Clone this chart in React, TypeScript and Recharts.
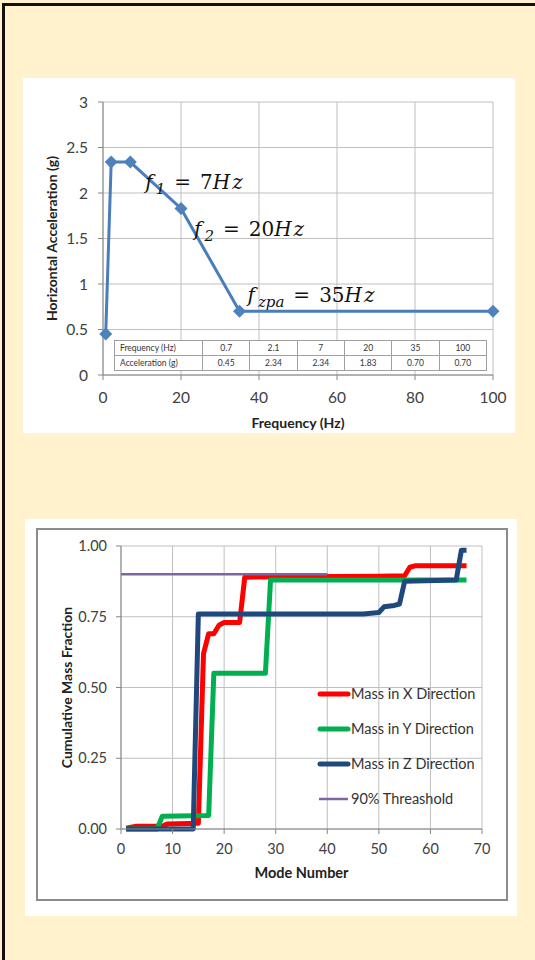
import React from "react";
import { LineChart, Line, XAxis, YAxis, CartesianGrid, ReferenceDot, Legend } from "recharts";

// --- response spectrum (top chart) ---
const FREQ_HZ = [0.7, 2.1, 7, 20, 35, 100];
const ACCEL_G = [0.45, 2.34, 2.34, 1.83, 0.7, 0.7];
const ACCEL_TEXT = ["0.45", "2.34", "2.34", "1.83", "0.70", "0.70"];
const FREQ_TICKS = [0, 20, 40, 60, 80, 100];
const ACCEL_TICKS = [0, 0.5, 1, 1.5, 2, 2.5, 3];

// notes sit next to the spectrum point they name
const NOTE_POINT = [2, 3, 4];
const NOTE_SUB = ["1", "2", "zpa"];
const NOTE_VALUE = ["7", "20", "35"];
const NOTE_OFFSET = [
  [15, 27],
  [13, 27.5],
  [8, -9],
];

// --- cumulative mass (bottom chart) ---
const X_MODES = [1, 3, 8, 9, 15, 16, 17, 18, 19, 20, 23, 24, 50, 55, 56, 57, 67];
const X_MASS = [0.003, 0.01, 0.01, 0.018, 0.02, 0.62, 0.69, 0.69, 0.72, 0.73, 0.73, 0.89, 0.893, 0.895, 0.925, 0.93, 0.93];
const Y_MODES = [1, 7, 8, 17, 18, 28, 29, 67];
const Y_MASS = [0, 0, 0.045, 0.048, 0.55, 0.55, 0.88, 0.88];
const Z_MODES = [1, 14, 15, 47, 50, 51, 53, 54, 55, 59, 65, 66, 67];
const Z_MASS = [0, 0, 0.76, 0.76, 0.765, 0.785, 0.79, 0.795, 0.875, 0.877, 0.88, 0.985, 0.985];
const T_MODES = [0, 40];
const T_MASS = [0.9, 0.9];
const MODE_TICKS = [0, 10, 20, 30, 40, 50, 60, 70];
const MASS_TICKS = [0, 0.25, 0.5, 0.75, 1];

const spectrum = FREQ_HZ.map((f, i) => ({ f, a: ACCEL_G[i] }));
const toRows = (modes: number[], mass: number[]) => modes.map((mode, i) => ({ mode, mass: mass[i] }));

const massSeries = [
  { name: "Mass in X Direction", color: "#ff0000", width: 5, data: toRows(X_MODES, X_MASS) },
  { name: "Mass in Y Direction", color: "#00b050", width: 5, data: toRows(Y_MODES, Y_MASS) },
  { name: "Mass in Z Direction", color: "#1f497d", width: 5, data: toRows(Z_MODES, Z_MASS) },
  { name: "90% Threashold", color: "#8064a2", width: 2.5, data: toRows(T_MODES, T_MASS) },
];

const FONT = "Lato, 'Open Sans', sans-serif";
const tickStyle = { fill: "#404040", fontSize: 15.5, fontFamily: FONT };
const tickStyle2 = { fill: "#404040", fontSize: 14.5, fontFamily: FONT };

const Diamond = (props: any) => {
  const { cx, cy, index } = props;
  if (cx == null || cy == null) return null;
  const s = 6.5;
  return (
    <path
      key={`dm-${index}`}
      d={`M${cx},${cy - s} L${cx + s},${cy} L${cx},${cy + s} L${cx - s},${cy} Z`}
      fill="#4f81bd"
    />
  );
};

const noteShape = (i: number) => (p: any) => {
  const x = p.cx + NOTE_OFFSET[i][0];
  const y = p.cy + NOTE_OFFSET[i][1];
  return (
    <text x={x} y={y} fontFamily="'DejaVu Serif', serif" fontSize={20} fill="#111">
      <tspan fontStyle="italic">f</tspan>
      <tspan fontStyle="italic" fontSize={15} dx={3} dy={5}>
        {NOTE_SUB[i]}
      </tspan>
      <tspan dx={9} dy={-5}>=</tspan>
      <tspan dx={9}>{NOTE_VALUE[i]}</tspan>
      <tspan fontStyle="italic" letterSpacing={2}>Hz</tspan>
    </text>
  );
};

const SpectrumChart = () => (
  <div style={{ position: "absolute", left: 23, top: 78, width: 492, height: 355, background: "#fff" }}>
    <LineChart width={492} height={355} data={spectrum} margin={{ top: 24, right: 22, left: 0, bottom: 0 }}>
      <CartesianGrid stroke="#bfbfbf" strokeWidth={1} />
      <XAxis
        type="number"
        dataKey="f"
        domain={[0, 100]}
        ticks={FREQ_TICKS}
        height={58}
        stroke="#868686"
        tickSize={5}
        tickMargin={12}
        tick={tickStyle}
        label={{
          content: (p: any) => (
            <text
              x={p.viewBox.x + p.viewBox.width / 2}
              y={p.viewBox.y + 53}
              textAnchor="middle"
              fontFamily={FONT}
              fontWeight="bold"
              fontSize={14}
              fill="#222"
            >
              Frequency (Hz)
            </text>
          ),
        }}
      />
      <YAxis
        type="number"
        domain={[0, 3]}
        ticks={ACCEL_TICKS}
        width={80}
        stroke="#868686"
        tickSize={5}
        tickMargin={10}
        tick={tickStyle}
        label={{
          content: (p: any) => {
            const cx = p.viewBox.x + 34;
            const cy = p.viewBox.y + p.viewBox.height / 2;
            return (
              <text
                x={cx}
                y={cy}
                transform={`rotate(-90 ${cx} ${cy})`}
                textAnchor="middle"
                fontFamily={FONT}
                fontWeight="bold"
                fontSize={14}
                fill="#222"
              >
                Horizontal Acceleration (g)
              </text>
            );
          },
        }}
      />
      <Line
        type="linear"
        dataKey="a"
        stroke="#4a7ebb"
        strokeWidth={3}
        dot={Diamond}
        activeDot={false}
        isAnimationActive={false}
      />
      {NOTE_POINT.map((pi, i) => (
        <ReferenceDot key={i} x={FREQ_HZ[pi]} y={ACCEL_G[pi]} r={0} shape={noteShape(i)} />
      ))}
    </LineChart>
    <table
      style={{
        position: "absolute",
        left: 91,
        top: 262,
        width: 373,
        height: 31,
        borderCollapse: "collapse",
        background: "#fff",
        fontFamily: FONT,
        fontSize: 8.5,
        color: "#333",
        tableLayout: "fixed",
      }}
    >
      <tbody>
        {[
          ["Frequency (Hz)", FREQ_HZ.map(String)],
          ["Acceleration (g)", ACCEL_TEXT],
        ].map(([head, cells]: any, r) => (
          <tr key={r}>
            <td style={{ border: "1px solid #a0a0a0", width: 82, padding: "0 0 0 5px" }}>{head}</td>
            {cells.map((c: string, k: number) => (
              <td key={k} style={{ border: "1px solid #a0a0a0", textAlign: "center", padding: 0 }}>
                {c}
              </td>
            ))}
          </tr>
        ))}
      </tbody>
    </table>
  </div>
);

const MassLegend = () => (
  <div style={{ fontFamily: FONT, fontSize: 14.5, color: "#333" }}>
    {massSeries.map((s) => (
      <div key={s.name} style={{ height: 35, display: "flex", alignItems: "center" }}>
        <svg width={34} height={10} style={{ display: "block" }}>
          <line
            x1={s.width > 3 ? 3 : 2}
            x2={31}
            y1={5}
            y2={5}
            stroke={s.color}
            strokeWidth={s.width}
            strokeLinecap={s.width > 3 ? "round" : "butt"}
          />
        </svg>
        <span style={{ whiteSpace: "nowrap" }}>{s.name}</span>
      </div>
    ))}
  </div>
);

const MassChart = () => (
  <div style={{ position: "absolute", left: 25, top: 519, width: 492, height: 397, background: "#fff" }}>
    <div
      style={{
        position: "absolute",
        left: 11,
        top: 9,
        width: 468,
        height: 369,
        border: "2px solid #8c8c8c",
      }}
    />
    <LineChart width={492} height={397} margin={{ top: 27, right: 35, left: 0, bottom: 0 }}>
      <CartesianGrid stroke="#bfbfbf" strokeWidth={1} />
      <XAxis
        type="number"
        dataKey="mode"
        domain={[0, 70]}
        ticks={MODE_TICKS}
        height={87}
        stroke="#868686"
        tickSize={5}
        tickMargin={10}
        tick={tickStyle2}
        allowDuplicatedCategory={false}
        label={{
          content: (p: any) => (
            <text
              x={p.viewBox.x + p.viewBox.width / 2}
              y={p.viewBox.y + 49}
              textAnchor="middle"
              fontFamily={FONT}
              fontWeight="bold"
              fontSize={14.5}
              fill="#222"
            >
              Mode Number
            </text>
          ),
        }}
      />
      <YAxis
        type="number"
        domain={[0, 1]}
        ticks={MASS_TICKS}
        width={96}
        stroke="#868686"
        tickSize={5}
        tickMargin={9}
        tick={tickStyle2}
        tickFormatter={(v: number) => v.toFixed(2)}
        label={{
          content: (p: any) => {
            const cx = p.viewBox.x + 47;
            const cy = p.viewBox.y + p.viewBox.height / 2;
            return (
              <text
                x={cx}
                y={cy}
                transform={`rotate(-90 ${cx} ${cy})`}
                textAnchor="middle"
                fontFamily={FONT}
                fontWeight="bold"
                fontSize={14}
                fill="#222"
              >
                Cumulative Mass Fraction
              </text>
            );
          },
        }}
      />
      {massSeries.map((s) => (
        <Line
          key={s.name}
          data={s.data}
          dataKey="mass"
          name={s.name}
          type="linear"
          stroke={s.color}
          strokeWidth={s.width}
          strokeLinejoin="round"
          dot={false}
          activeDot={false}
          isAnimationActive={false}
        />
      ))}
      <Legend
        layout="vertical"
        align="center"
        verticalAlign="middle"
        content={() => <MassLegend />}
        wrapperStyle={{ position: "absolute", left: 292, top: 157, width: 175, height: 140 }}
      />
    </LineChart>
  </div>
);

export default function App() {
  return (
    <div
      style={{
        position: "absolute",
        left: 0,
        top: 0,
        width: 535,
        height: 960,
        overflow: "hidden",
        background: "#fff2cc",
        fontFamily: FONT,
      }}
    >
      <div
        style={{
          position: "absolute",
          left: 2,
          top: 3,
          width: 600,
          height: 1000,
          borderTop: "3px solid #111",
          borderLeft: "3px solid #111",
        }}
      />
      <SpectrumChart />
      <MassChart />
    </div>
  );
}
